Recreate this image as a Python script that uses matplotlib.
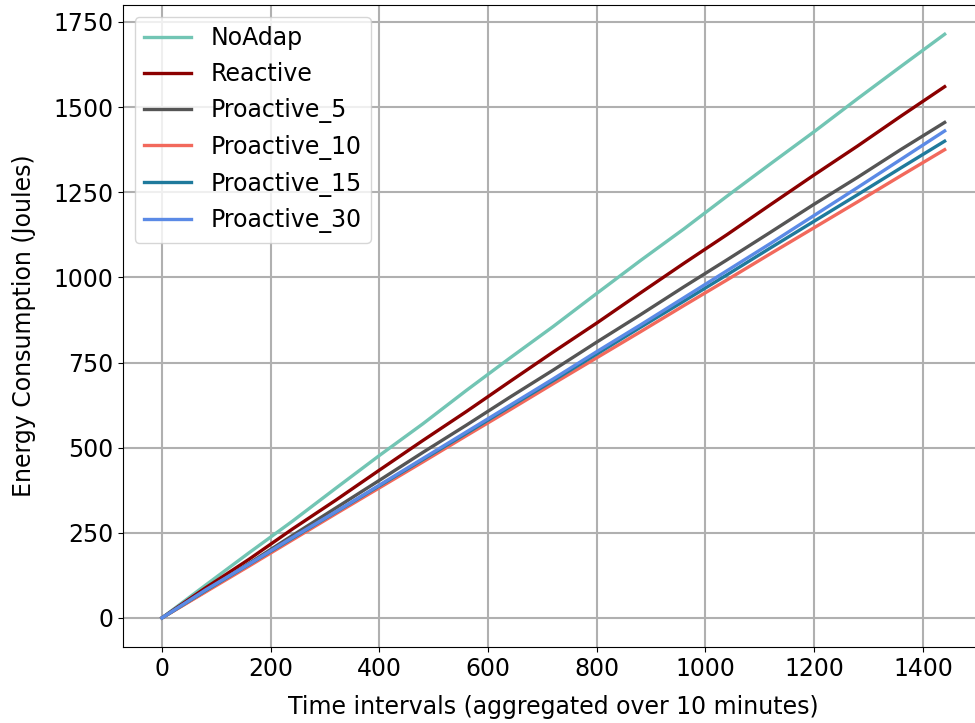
import matplotlib
matplotlib.use("Agg")
from matplotlib import pyplot as plt

matplotlib.rcParams.update({
    'font.size': 17,
    'lines.linewidth': 2.4,
})

# time intervals (aggregated over 10 minutes), sampled every 80
intervals = [0, 80, 160, 240, 320, 400, 480, 560, 640, 720, 800,
             880, 960, 1040, 1120, 1200, 1280, 1360, 1440]

no_adap = [0, 96, 191, 284, 381, 477, 570, 668, 763, 856, 953,
           1049, 1142, 1239, 1334, 1428, 1525, 1620, 1714]
reactive = [0, 88, 172, 261, 346, 434, 521, 606, 694, 781, 866,
            954, 1041, 1126, 1214, 1301, 1386, 1474, 1560]
proactive_5 = [0, 78, 160, 242, 323, 404, 486, 566, 648, 728, 810,
               890, 972, 1052, 1133, 1215, 1294, 1376, 1455]
proactive_10 = [0, 76, 152, 229, 306, 382, 458, 535, 611, 688, 764,
                840, 917, 993, 1070, 1146, 1222, 1299, 1375]
proactive_15 = [0, 80, 157, 234, 311, 388, 465, 542, 620, 697, 775,
                853, 930, 1008, 1087, 1165, 1243, 1322, 1400]
proactive_30 = [0, 82, 158, 236, 312, 390, 468, 546, 624, 702, 782,
                860, 940, 1020, 1100, 1182, 1264, 1347, 1430]

series = [
    ('NoAdap', no_adap, '#72c5b4'),
    ('Reactive', reactive, '#8b0000'),
    ('Proactive_5', proactive_5, '#555555'),
    ('Proactive_10', proactive_10, '#f2695c'),
    ('Proactive_15', proactive_15, '#1f7a9c'),
    ('Proactive_30', proactive_30, '#5b8ae6'),
]

fig, ax = plt.subplots(figsize=(9.75, 7.23), dpi=100)
for name, vals, color in series:
    ax.plot(intervals, vals, label=name, color=color)

ax.set_xlabel('Time intervals (aggregated over 10 minutes)', labelpad=10)
ax.set_ylabel('Energy Consumption (Joules)', labelpad=12)
ax.grid(True, color='#b0b0b0', linewidth=1.5)
ax.set_axisbelow(True)
ax.legend(loc='upper left', fontsize=17, handlelength=2.0, borderaxespad=0.5)

plt.subplots_adjust(left=0.126, right=1.009, bottom=0.105, top=0.993)
plt.savefig('out.png', dpi=100)
plt.close()
